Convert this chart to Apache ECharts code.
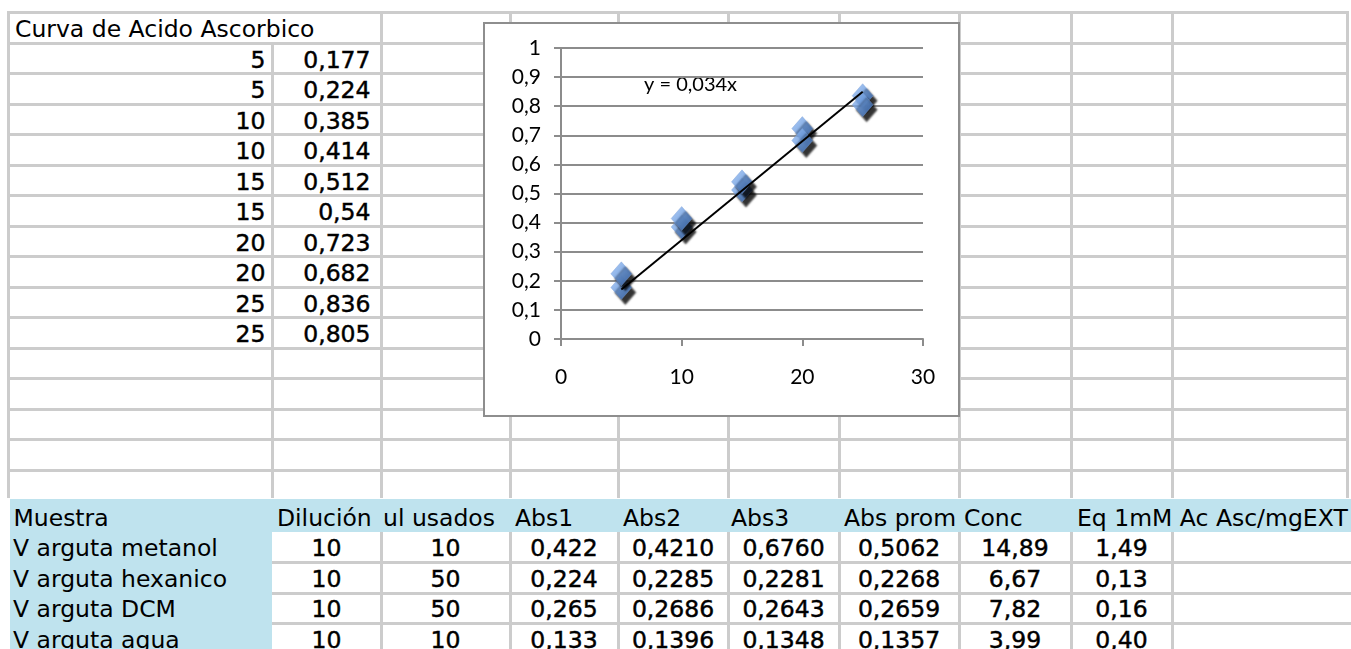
<!DOCTYPE html>
<html>
<head>
<meta charset="utf-8">
<script src="https://cdn.jsdelivr.net/npm/echarts@6/dist/echarts.min.js"></script>
<style>
  html, body { margin: 0; padding: 0; background: #ffffff; }
  #sheet { position: absolute; left: 0; top: 0; width: 1351px; height: 649px; overflow: hidden; }
  .ln { position: absolute; background: #cccccc; }
  .tx { position: absolute; white-space: nowrap; font-family: "DejaVu Sans", Verdana, sans-serif; font-size: 23.5px; color: #000; }
  .num { -webkit-text-stroke: 0.45px #000; }
  #chartBox { position: absolute; left: 483px; top: 22px; width: 477px; height: 395px; box-sizing: border-box; border: 2px solid #8e8e8e; background: #ffffff; }
  #chart { width: 100%; height: 100%; }
</style>
</head>
<body>
<div id="sheet"></div>
<div id="chartBox"><div id="chart"></div></div>
<script>
// ---------- data ----------
const sheetTitle = 'Curva de Acido Ascorbico';
const curveConc = [5, 5, 10, 10, 15, 15, 20, 20, 25, 25];
const curveAbs = [0.177, 0.224, 0.385, 0.414, 0.512, 0.54, 0.723, 0.682, 0.836, 0.805];
const trendSlope = 0.034;
const trendRange = [5, 25];
const trendLabel = 'y = 0,034x';
const xAxisRange = [0, 30, 10];
const yAxisRange = [0, 1, 0.1];

const tableHeaders = ['Muestra', 'Dilución', 'ul usados', 'Abs1', 'Abs2', 'Abs3', 'Abs prom', 'Conc', 'Eq 1mM Ac Asc/mgEXT'];
const sampleNames = ['V arguta metanol', 'V arguta hexanico', 'V arguta DCM', 'V arguta agua'];
const dilucion = [10, 10, 10, 10];
const ulUsados = [10, 50, 50, 10];
const abs1 = [0.422, 0.224, 0.265, 0.133];
const abs2 = [0.4210, 0.2285, 0.2686, 0.1396];
const abs3 = [0.6760, 0.2281, 0.2643, 0.1348];
const absProm = [0.5062, 0.2268, 0.2659, 0.1357];
const conc = [14.89, 6.67, 7.82, 3.99];
const eqAsc = [1.49, 0.13, 0.16, 0.40];

// ---------- sheet layout ----------
const colX = [8.5, 272, 381, 510, 618, 728, 839, 959, 1071, 1172, 1347];
const headPad = [5, 5, 2, 5, 5, 3, 5, 5, 6];
const rowY0 = 12.5, rowH = 30.5, topRows = 16;
const headTop = 499, headBottom = 532, dataRowH = 30.5;
const sheet = document.getElementById('sheet');

function line(x, y, w, h, color) {
  const d = document.createElement('div');
  d.className = 'ln';
  d.style.left = x + 'px'; d.style.top = y + 'px';
  d.style.width = w + 'px'; d.style.height = h + 'px';
  if (color) d.style.background = color;
  sheet.appendChild(d);
}
function rect(x, y, w, h, color) { line(x, y, w, h, color); }
function text(str, x, y, w, h, align, cls) {
  const d = document.createElement('div');
  d.className = 'tx' + (cls ? ' ' + cls : '');
  d.textContent = str;
  d.style.top = y + 'px';
  d.style.height = h + 'px';
  d.style.lineHeight = h + 'px';
  if (align === 'left') { d.style.left = x + 'px'; }
  else if (align === 'right') { d.style.right = (1351 - x) + 'px'; }
  else { d.style.left = (x - w / 2) + 'px'; d.style.width = w + 'px'; d.style.textAlign = 'center'; }
  sheet.appendChild(d);
}
const comma = v => String(v).replace('.', ',');
const fix = (v, n) => v.toFixed(n).replace('.', ',');

// top grid
for (let k = 0; k < topRows; k++) {
  const y = rowY0 + rowH * k;
  line(colX[0] - 1.5, y - 1.5, colX[colX.length - 1] - colX[0] + 3, 3);
}
for (let i = 0; i < colX.length; i++) {
  const yStart = (i === 1) ? rowY0 + rowH : rowY0;
  line(colX[i] - 1.5, yStart - 1.5, 3, headTop - yStart);
}
// top text
text(sheetTitle, 15, rowY0 + 1.5, 0, rowH, 'left');
for (let i = 0; i < curveConc.length; i++) {
  const y = rowY0 + rowH * (i + 1) + 1.5;
  text(String(curveConc[i]), 265.5, y, 0, rowH, 'right', 'num');
  text(comma(curveAbs[i]), 370.5, y, 0, rowH, 'right', 'num');
}

// table header and sample column
const blue = '#bfe3ee';
rect(10, headTop, 1341, headBottom - headTop, blue);
rect(10, headBottom, colX[1] - 10, 649 - headBottom, blue);
for (let r = 1; r <= 3; r++) {
  const y = headBottom + dataRowH * r;
  line(colX[1], y - 1.5, 1351 - colX[1], 3);
}
for (let i = 2; i < colX.length - 1; i++) {
  line(colX[i] - 1.5, headBottom, 3, 649 - headBottom);
}
for (let i = 0; i < tableHeaders.length; i++) {
  text(tableHeaders[i], colX[i] + headPad[i], headTop + 2.5, 0, headBottom - headTop, 'left');
}
const cols = [
  dilucion.map(v => String(v)), ulUsados.map(v => String(v)),
  abs1.map(v => fix(v, 3)), abs2.map(v => fix(v, 4)), abs3.map(v => fix(v, 4)),
  absProm.map(v => fix(v, 4)), conc.map(v => fix(v, 2)), eqAsc.map(v => fix(v, 2))
];
for (let r = 0; r < sampleNames.length; r++) {
  const y = headBottom + dataRowH * r + 1;
  text(sampleNames[r], 13, y, 0, dataRowH, 'left');
  for (let c = 0; c < cols.length; c++) {
    const cx = (colX[c + 1] + colX[c + 2]) / 2;
    text(cols[c][r], cx, y, colX[c + 2] - colX[c + 1], dataRowH, 'center', 'num');
  }
}

// ---------- chart ----------
const chart = echarts.init(document.getElementById('chart'));
const gridGray = '#8c8c8c';
const labelFont = { fontFamily: 'Lato', fontSize: 21, color: '#000' };
const trendData = trendRange.map(x => [x, trendSlope * x]);
const pts = curveConc.map((x, i) => [x, curveAbs[i]]);

chart.setOption({
  animation: false,
  backgroundColor: '#ffffff',
  grid: { left: 76, top: 24, width: 362, height: 291 },
  xAxis: {
    type: 'value', min: xAxisRange[0], max: xAxisRange[1], interval: xAxisRange[2],
    axisLine: { show: true, lineStyle: { color: gridGray, width: 2 } },
    axisTick: { show: true, inside: false, length: 7, lineStyle: { color: gridGray, width: 2 } },
    splitLine: { show: false },
    axisLabel: Object.assign({ margin: 28 }, labelFont)
  },
  yAxis: {
    type: 'value', min: yAxisRange[0], max: yAxisRange[1], interval: yAxisRange[2],
    axisLine: { show: true, lineStyle: { color: gridGray, width: 2 } },
    axisTick: { show: true, inside: false, length: 7, lineStyle: { color: gridGray, width: 2 } },
    splitLine: { show: true, lineStyle: { color: gridGray, width: 2 } },
    axisLabel: Object.assign({
      margin: 20,
      formatter: v => String(Math.round(v * 10) / 10).replace('.', ',')
    }, labelFont)
  },
  series: [
    {
      type: 'scatter',
      data: pts,
      symbol: 'diamond',
      symbolSize: [21, 24],
      z: 3,
      itemStyle: {
        color: new echarts.graphic.LinearGradient(0, 0, 1, 1, [
          { offset: 0, color: '#9cc0f2' },
          { offset: 0.5, color: '#6a9be0' },
          { offset: 1, color: '#3f73c2' }
        ]),
        borderColor: '#7d9fd6',
        borderWidth: 0.5,
        shadowColor: 'rgba(0,0,0,1)',
        shadowBlur: 2,
        shadowOffsetX: 4,
        shadowOffsetY: 5
      }
    },
    {
      type: 'line',
      data: trendData,
      showSymbol: false,
      symbol: 'none',
      z: 4,
      lineStyle: { color: '#000000', width: 2 }
    }
  ],
  graphic: [
    {
      type: 'text',
      left: 159, top: 51,
      style: { text: trendLabel, font: '20px Lato', fill: '#000' }
    }
  ]
});
</script>
</body>
</html>
